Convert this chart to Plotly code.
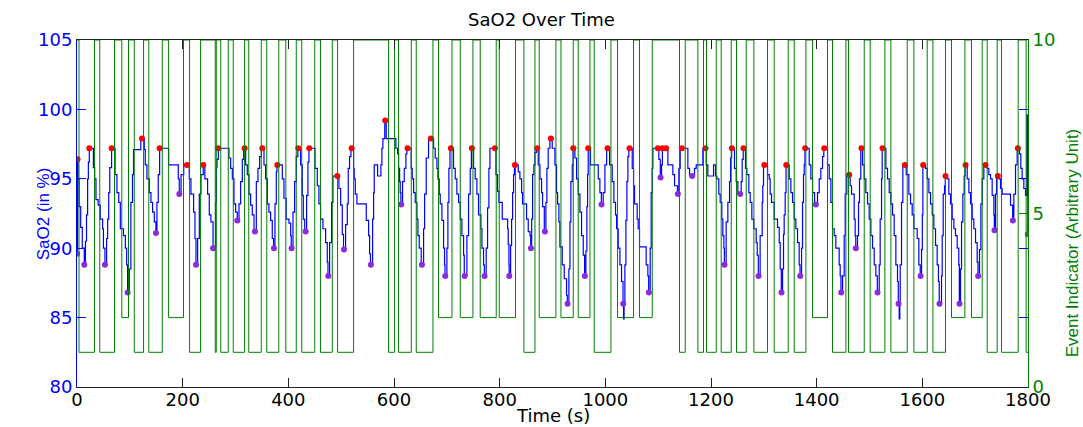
import plotly.graph_objects as go

# ---------------- data ----------------
sao2_t = [0, 1, 2, 4, 7, 10, 13.8, 16, 18, 20.1, 21.5, 23.3, 31, 33.5, 35.9, 40, 44, 48.5, 50, 52.9,
          56, 58, 60, 62, 65.5, 72, 75.6, 79, 82, 88, 91.5, 94, 95.8, 99, 102, 105, 107, 120.8, 127.3,
          129.2, 132.4, 136.8, 140, 143.1, 146.3, 149.4, 151.3, 153.8, 156.4, 173.4, 191.7, 193.6, 197,
          202, 212.5, 215.7, 220.7, 223.3, 225.2, 228.3, 231.5, 234.6, 239, 242, 247.2, 250.4, 253.5,
          257.5, 262.4, 263.7, 265, 267.5, 287.6, 290.8, 294, 297.1, 300.3, 303.4, 306.6, 309.7, 312.9,
          315.5, 319.2, 322.3, 325.5, 328.6, 331.8, 335, 339.4, 342.5, 345.7, 349, 353.9, 357, 360.2,
          363.3, 366.5, 369.6, 372, 374.7, 377.2, 378.5, 388.6, 391.7, 396, 401.2, 404.4, 405.5, 408.8,
          411.9, 415, 418, 423.3, 426.4, 428.3, 431, 434.6, 437.1, 439, 450.4, 454.8, 457.9, 461.1,
          465.5, 470.6, 473.7, 475, 478.1, 481.9, 484.4, 495.8, 499, 502.1, 504.5, 508.4, 511.6, 513.4,
          515.9, 518.5, 523.5, 524.7, 526.7, 529.8, 547.5, 551.9, 553.8, 555.5, 559.5, 561.4, 562.6,
          569, 575.2, 577.1, 579, 582.5, 585.3, 603.6, 606.8, 608.7, 610.6, 611.8, 613, 616.2, 619.4,
          622.5, 624.5, 632.6, 634.5, 637.1, 640.2, 643.4, 645.3, 647.8, 651.5, 656, 657.9, 661, 665.4,
          674.9, 678, 681.2, 683.1, 685.6, 687.5, 690.7, 693.8, 695.7, 696.5, 700.1, 702, 703.9, 706,
          712.7, 715.9, 719, 722.2, 725.4, 728.5, 731.7, 733, 738, 741.1, 744.3, 746.5, 750.6, 753.7,
          756.9, 760, 764.5, 766.4, 769.5, 771, 774.5, 777.1, 779.6, 781.6, 793, 796, 798.6, 804.9,
          815, 816.2, 817.5, 818, 820.7, 822.6, 824.5, 826.3, 828, 835.2, 838.3, 841.5, 843.4, 850.9,
          854.1, 857.3, 858.8, 860.6, 862.3, 864.8, 866.7, 869.5, 873, 876.2, 879.3, 881.2, 884.5,
          887.5, 889.4, 891.9, 895.1, 899.5, 904.6, 907.7, 909.6, 912.1, 914, 918.4, 922.2, 926.6, 928,
          931, 933, 934.8, 937.4, 939, 942.4, 945.6, 948.7, 951.9, 955, 958.2, 960.8, 963.2, 965.1,
          966.4, 967.6, 972, 986.6, 989.7, 992.5, 996, 999.2, 1002.5, 1008, 1013, 1016.2, 1019.3,
          1021.3, 1024.4, 1027.6, 1030.7, 1033.5, 1034.5, 1035.5, 1037, 1038.9, 1040.8, 1042.7, 1044.5,
          1050.9, 1053.4, 1055.3, 1060.3, 1062.2, 1064.7, 1077.3, 1080.5, 1082, 1084.9, 1086.8, 1088.7,
          1090, 1101.3, 1104, 1106.4, 1108, 1118.4, 1127.8, 1131, 1136.5, 1139.2, 1141.7, 1156.2,
          1159.4, 1168.8, 1172, 1184.6, 1190.9, 1194, 1204.8, 1208.5, 1211, 1214.8, 1217.4, 1220.5,
          1222.4, 1224.3, 1225.3, 1228.7, 1231.9, 1235.1, 1237, 1239, 1244.5, 1247.7, 1250.8, 1257.1,
          1259, 1261, 1265.3, 1267.9, 1271.6, 1274.2, 1277.3, 1281.1, 1285.5, 1287.5, 1289.5, 1293,
          1296.9, 1298, 1299.4, 1307, 1310.2, 1312, 1314.6, 1319.6, 1325.9, 1329.1, 1331, 1333, 1335.4,
          1337.3, 1338.5, 1340.4, 1342, 1348, 1351.2, 1354.3, 1357.5, 1360.6, 1363.8, 1366.9, 1368.5,
          1371.4, 1373.2, 1375.1, 1376.4, 1377.8, 1385.9, 1389, 1392.2, 1396, 1401.6, 1404.8, 1407.9,
          1411.1, 1413.5, 1420.6, 1423.7, 1426.9, 1430, 1433.2, 1436.3, 1442.6, 1444.5, 1446, 1449,
          1452.1, 1454, 1457.1, 1463.4, 1466, 1471, 1472.9, 1474, 1477.3, 1479.2, 1481.1, 1483.5,
          1486.8, 1490, 1493.1, 1496.3, 1499.4, 1502.6, 1505.7, 1508.9, 1512, 1514.8, 1518.4, 1520.2,
          1522.8, 1524, 1531, 1534.1, 1537.3, 1540.4, 1543.6, 1546.7, 1549.9, 1553, 1554.5, 1556.2,
          1557.4, 1558.1, 1560.6, 1563.1, 1569.5, 1574.5, 1577.7, 1580.8, 1584, 1590.3, 1593.4, 1596,
          1598.5, 1600, 1601, 1606.1, 1609.2, 1612.4, 1615.5, 1618.7, 1621.8, 1625, 1628.1, 1630.5,
          1632, 1636.3, 1637.6, 1639.5, 1642, 1643.5, 1647.1, 1650.2, 1653.4, 1656.5, 1659.7, 1662.8,
          1666, 1669, 1670, 1672.3, 1674.2, 1676.7, 1679.2, 1681, 1684.9, 1688.1, 1691.2, 1694.4,
          1697.5, 1700.7, 1703.8, 1705.3, 1708.2, 1710.8, 1713.3, 1716.4, 1722.8, 1725.9, 1729.1,
          1732.2, 1735.4, 1736.3, 1738.5, 1740.4, 1744.8, 1748, 1751.1, 1766.9, 1771, 1773.2, 1776.4,
          1779.5, 1784, 1786.4, 1788.9, 1792.1, 1795.3, 1798, 1799.7]

sao2_v = [89.6, 96.4, 95, 93.0, 91.5, 90, 88.8, 90.5, 92.4, 95, 96.2, 97.2, 95.8, 95, 93.5, 93.1, 92.1, 91.4, 90, 88.8,
          90.7, 92.1, 94, 95.8, 97.2, 95.3, 94, 93.3, 91.4, 90.9, 90, 88.8, 86.8, 88.5, 93.3, 95.3, 97.1, 97.9, 97.1,
          96, 95, 94, 93.3, 92.6, 91.9, 91.1, 93.3, 95.3, 97.2, 96, 95, 93.9, 95.3,
          96, 95, 93.9, 92.6, 90.7, 88.8, 90.7, 93.9, 95.3, 96, 95, 93.9, 92.4, 91.9,
          90, 93.3, 95.8, 96.4, 97.2, 96.5, 95.75, 95, 93.2, 92.6, 92, 93.2, 94.8, 96.4,
          97.2, 96, 95.3, 93.9, 93.1, 92.4, 91.2, 94.8, 95.75, 96.6, 97.2, 96, 95, 93.2,
          92.6, 92, 90.7, 90, 93.2, 95.5, 96, 95, 93.6, 92.1, 91.8, 90.9, 90, 92.6,
          94.8, 96.6, 97.2, 96, 93.8, 92.1, 91.2, 93.8, 96.2, 97.2, 95.75, 94.5, 93.2, 92.1,
          91.4, 90.4, 89.0, 88, 90.4, 93.3, 95.2, 94.3, 93.1, 91.0, 89.9, 91.7, 93.2, 95.75,
          96.6, 97.2, 95.75, 95, 93.9, 93.2, 92.0, 90.9, 89.6, 88.8, 92.1, 94, 96,
          95.2, 96, 97.2, 97.9, 99.2, 97.9, 97.2, 96.8, 95.75, 94.8, 94.0, 93.15, 94.8, 95.75,
          96.8, 97.2, 95.75, 95, 94, 93.3, 92.1, 90.9, 90, 88.8, 91.4, 93.9, 96.5, 97.9,
          97.2, 96.5, 95.75, 95, 93.9, 93.2, 92.0, 90, 88.8, 88, 90, 93.3, 95.75, 97.2,
          95.75, 95, 93.9, 93.3, 92.1, 90.9, 89.5, 88, 90.9, 93.9, 95.75, 97.2, 95.75, 95,
          93.9, 92.4, 91.4, 90, 88.8, 88, 90, 92.9, 95.75, 97.2, 95.3, 94.1, 93.3, 92.1,
          91.4, 90.3, 88.8, 88, 90.2, 92.1, 94, 95.3, 96, 95.5, 95, 94, 93.2, 92.1,
          91.2, 90.9, 90, 92.1, 95.3, 96, 96.9, 97.2, 96, 95, 94, 93, 91.2,
          93.3, 95.75, 97.2, 97.9, 97.2, 96, 94, 93.2, 91.9, 90.1, 88.8, 87.8, 86.6, 86,
          88.5, 91.9, 94.8, 96, 97.2, 96.5, 95, 93.9, 92.6, 90.9, 89.5, 88, 89.8, 93,
          95.3, 97.2, 96, 95, 94, 93.15, 94, 96, 97.2, 96, 94.8, 93.3, 92.4,
          91.4, 90, 88.8, 87.6, 86, 84.9, 86, 88.8, 92, 94.8, 96.6, 97.2,
          95.75, 94.5, 93.2, 92.1, 91.4, 90.1, 88.8, 88, 86.8, 90, 94, 95.75,
          97.2, 96.4, 95.1, 96, 97.2, 96, 95.3, 94.5, 93.9, 95.75, 97.2, 95.75,
          95.2, 95.75, 96, 97.2, 96, 95.2, 96, 95.2, 95, 93.9, 93.3, 92.1,
          90.9, 90, 88.8, 91.9, 93.3, 94.8, 96.5, 97.2, 95.75, 94.8, 93.9, 94.8,
          96.4, 97.2, 95.75, 95.3, 94, 93.3, 92.1, 91.4, 90.4, 89.5, 88, 90.9,
          93.3, 94.5, 96, 95.3, 95, 93.9, 93.3, 92.1, 91.5, 90.4, 88.5, 86.8, 88.5,
          91, 92.4, 94, 96, 95, 94, 93.3, 92.1, 91.4, 90.4, 88.8, 88,
          90, 93.3, 95.3, 96, 97.2, 96, 95, 94, 93.15, 94, 95, 95.75,
          96.6, 97.2, 96, 95, 93.3, 91.4, 90.9, 90, 88.8, 88, 86.8, 88,
          90.9, 93.9, 95.3, 94.5, 93.9, 92.1, 90.9, 90, 90.9, 93.3, 95, 97.2,
          96, 95, 94, 93.2, 92.1, 90.9, 90, 88.8, 88, 86.8, 88.8, 92.1,
          95, 97.2, 95.75, 95, 94, 93.2, 92.4, 90.9, 88.8, 87.6, 86, 84.9,
          86, 88.8, 93.3, 96, 95.3, 93.9, 93.2, 92.4, 91.4, 90.7, 88.8, 88,
          89.9, 92.4, 96, 95.75, 95, 94, 93.2, 92.4, 91.4, 90.2, 88.8, 87.6,
          86, 88, 90.9, 93.9, 94.5, 95.2, 95, 93.9, 93.2, 92.1, 91.4, 90.9,
          90, 88.8, 86, 88.5, 91.9, 93.9, 95.2, 96, 95, 94, 93.2, 92.1,
          91.4, 90.4, 89, 88, 89.9, 93.2, 95, 96, 95.75, 95.3, 95,
          93.8, 92.4, 91.3, 93.9, 95.2, 95, 94.3, 93.9, 93.1, 92.0, 93.9, 96,
          97.2, 96.8, 95.75, 95, 94.3, 93.8, 99.6, 91.0]

peak_t = [1, 23.3, 65.5, 122.9, 156.4, 208.1, 239, 267.5, 317.3, 350.7, 379.1, 418.9, 439.6, 492.7,
          519.8, 583.4, 625.7, 669.8, 707.7, 747.4, 791, 828.9, 871.1, 897, 939.3, 967.6, 1004.2,
          1045.8, 1099.4, 1108, 1115, 1144.9, 1189.6, 1239.5, 1261.5, 1301, 1342.4, 1378.3, 1414.3,
          1461.6, 1484.9, 1524.7, 1566.9, 1601.6, 1643.9, 1681.8, 1719.6, 1742.9, 1780.8]
peak_v = [96.4, 97.2, 97.2, 97.9, 97.2, 96, 96, 97.2, 97.2, 97.2, 96, 97.2, 97.2, 95.2,
          97.2, 99.2, 97.2, 97.9, 97.2, 97.2, 97.2, 96, 97.2, 97.9, 97.2, 97.2, 97.2,
          97.2, 97.2, 97.2, 97.2, 97.2, 97.2, 97.2, 97.2, 96, 96, 97.2, 97.2,
          95.3, 97.2, 97.2, 96, 96, 95.2, 96, 96, 95.2, 97.2]

trough_t = [0, 13.8, 52.9, 95.8, 149.4, 193.6, 225.2, 257.5, 303.4, 336.8, 372.8, 406.2, 432.7, 475.6,
            505.3, 556.3, 613.7, 652.8, 697, 733.6, 771.4, 818.1, 859.2, 885.6, 928.5, 961.3, 992.9,
            1033.9, 1082.4, 1104.5, 1137.3, 1164.4, 1225.6, 1255.2, 1290, 1333.5, 1368.8, 1398.5,
            1446.5, 1474.2, 1515.2, 1554.9, 1596.6, 1632.5, 1670.4, 1705.7, 1736.6, 1771.3, 1799.7]
trough_v = [89.6, 88.8, 88.8, 86.8, 91.1, 93.9, 88.8, 90, 92, 91.2, 90, 90, 91.2, 88,
            89.9, 88.8, 93.15, 88.8, 88, 88, 88, 88, 90, 91.2, 86, 88, 93.15,
            86, 86.8, 95.1, 93.9, 95.2, 88.8, 93.9, 88, 86.8, 88, 93.15,
            86.8, 90, 86.8, 86, 88, 86, 86, 88, 91.3, 92, 91]

event_t = [0, 3.8, 33.1, 43.1, 71.0, 84.8, 97.5, 108.4, 126.0, 135.9, 161.4, 173.4, 201.6, 213.1, 233.9,
           261.7, 263.6, 272.1, 286.3, 295.8, 317.2, 325.1, 348.8, 359.2, 381.9, 395.3, 415.0, 425.4,
           450.0, 460.8, 483.2, 493.2, 523.5, 589.7, 601.1, 608.6, 632.7, 642.1, 673.7, 684.3, 709.7,
           725.4, 749.4, 763.2, 793.5, 799.2, 830.0, 845.9, 866.8, 874.9, 906.5, 916.0, 939.3, 948.7,
           970.9, 979.0, 1010.6, 1023.1, 1053.4, 1064.7, 1088.8, 1140.4, 1151.2, 1175.2, 1185.8,
           1191.5, 1209.9, 1219.3, 1238.3, 1248.3, 1266.7, 1281.2, 1306.9, 1319.6, 1346.1, 1357.5,
           1379.6, 1392.1, 1420.5, 1430.0, 1455.3, 1460.3, 1490.0, 1501.3, 1529.1, 1540.5, 1571.4,
           1584.0, 1609.2, 1620.0, 1643.8, 1655.2, 1680.5, 1693.0, 1713.3, 1722.8, 1741.7, 1749.8,
           1781.4, 1796.5, 1800]
event_v = [10, 1, 10, 1, 10, 2, 10, 1, 10, 1, 10, 2, 10, 1, 10,
           1, 10, 1, 10, 1, 10, 1, 10, 1, 10, 1, 10, 1,
           10, 1, 10, 1, 10, 1, 10, 1, 10, 1, 10, 2, 10,
           2, 10, 2, 10, 2, 10, 1, 10, 2, 10, 2, 10, 2,
           10, 1, 10, 2, 10, 2, 10, 1, 10, 1, 10,
           1, 10, 1, 10, 1, 10, 1, 10, 1, 10, 1,
           10, 2, 10, 1, 10, 1, 10, 1, 10, 1, 10,
           1, 10, 1, 10, 2, 10, 2, 10, 1, 10, 1,
           10, 1, 1]

x_ticks = [0, 200, 400, 600, 800, 1000, 1200, 1400, 1600, 1800]
left_ticks = [80, 85, 90, 95, 100, 105]
right_ticks = [0, 5, 10]

# ---------------- figure ----------------
HFONT = "DejaVu Sans, Verdana, sans-serif"
VFONT = "Liberation Sans, Arial, Helvetica, sans-serif"
BLUE = "#0000FF"
GREEN = "#008000"

fig = go.Figure()
fig.add_trace(go.Scatter(x=sao2_t, y=sao2_v, mode="lines", line=dict(color=BLUE, width=1.2, shape="hv"),
                         showlegend=False, hoverinfo="skip"))
fig.add_trace(go.Scatter(x=peak_t, y=peak_v, mode="markers",
                         marker=dict(color="#FF0000", size=6, symbol="circle"), showlegend=False))
fig.add_trace(go.Scatter(x=trough_t, y=trough_v, mode="markers",
                         marker=dict(color="#8A2BE2", size=6, symbol="circle"), showlegend=False))
fig.add_trace(go.Scatter(x=event_t, y=event_v, mode="lines", yaxis="y2",
                         line=dict(color=GREEN, width=1, shape="hv"), showlegend=False, hoverinfo="skip"))

fig.update_layout(
    width=1083, height=427,
    margin=dict(l=77, r=55, t=40, b=40),
    paper_bgcolor="white", plot_bgcolor="white",
    font=dict(family=HFONT, size=18, color="black"),
    title=dict(text="SaO2 Over Time", x=0.5, xanchor="center", y=0.955, yanchor="middle",
               font=dict(size=18, color="black", family=HFONT)),
    xaxis=dict(range=[0, 1800], tickvals=x_ticks, ticks="inside", ticklen=9, tickcolor="#222",
               showline=True, linecolor="#222", linewidth=1, mirror="ticks", showgrid=False,
               zeroline=False, ticklabelstandoff=-4, tickfont=dict(size=18, color="black", family=HFONT)),
    yaxis=dict(range=[80, 105], tickvals=left_ticks, ticks="inside", ticklen=9, tickcolor=BLUE,
               showline=True, linecolor=BLUE, linewidth=1, mirror="ticks", showgrid=False,
               zeroline=False, tickfont=dict(size=18, color=BLUE, family=HFONT)),
    yaxis2=dict(range=[0, 10], tickvals=right_ticks, ticks="inside", ticklen=9, tickcolor=GREEN,
                overlaying="y", side="right", showline=True, linecolor=GREEN, linewidth=1,
                showgrid=False, zeroline=False, tickfont=dict(size=18, color=GREEN, family=HFONT)),
    annotations=[
        dict(text="Time (s)", x=0.5, y=-0.083, xref="paper", yref="paper", showarrow=False,
             xanchor="center", yanchor="middle", font=dict(size=18, color="black", family=HFONT)),
        dict(text="SaO2 (in %)", x=-0.035, y=0.5, xref="paper", yref="paper", showarrow=False,
             textangle=-90, xanchor="center", yanchor="middle", font=dict(size=17, color=BLUE, family=VFONT)),
        dict(text="Event Indicator (Arbitrary Unit)", x=1.047, y=0.416, xref="paper", yref="paper",
             showarrow=False, textangle=-90, xanchor="center", yanchor="middle",
             font=dict(size=17, color=GREEN, family=VFONT)),
    ],
)

fig.write_html("out.html")
